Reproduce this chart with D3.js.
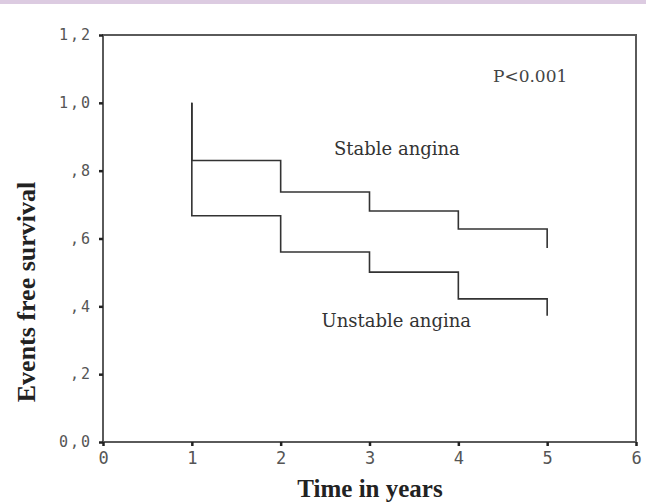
<!DOCTYPE html>
<html>
<head>
<meta charset="utf-8">
<script src="https://cdn.jsdelivr.net/npm/d3@7"></script>
<style>
  body { margin: 0; background: #fff; }
</style>
</head>
<body>
<div id="chart"></div>
<script>
// survival steps (time in years, events free survival)
var times = [1, 2, 3, 4, 5];
var stable = [0.830, 0.737, 0.681, 0.628, 0.572];
var unstable = [0.667, 0.560, 0.501, 0.422, 0.372];
var startValue = 1.0;
var xTicks = [0, 1, 2, 3, 4, 5, 6];
var yTicks = [0, 0.2, 0.4, 0.6, 0.8, 1.0, 1.2];
var yTickLabels = ["0,0", ",2", ",4", ",6", ",8", "1,0", "1,2"];

var W = 646, H = 503;
var margin = {top: 35, right: 10, bottom: 61, left: 103};
var width = 636 - margin.left,
    height = 442 - margin.top;

var svg = d3.select("#chart")
  .append("svg")
    .attr("width", W)
    .attr("height", H);

// lavender strip along the top
svg.append("rect")
  .attr("x", 0).attr("y", 0)
  .attr("width", W).attr("height", 4)
  .style("fill", "#dccbe1");

var g = svg.append("g")
  .attr("transform", "translate(" + margin.left + "," + margin.top + ")");

var x = d3.scaleLinear().domain([0, 6]).range([0, width]);
var y = d3.scaleLinear().domain([0, 1.2]).range([height, 0]);

// frame
g.append("rect")
  .attr("x", 0).attr("y", 0)
  .attr("width", width).attr("height", height)
  .style("fill", "none")
  .style("stroke", "#5a5a5a")
  .style("stroke-width", 2);

// axes
var xAxis = g.append("g")
  .attr("transform", "translate(0," + height + ")")
  .call(d3.axisBottom(x).tickValues(xTicks).tickSize(4).tickPadding(6).tickFormat(d3.format("d")));

var yAxis = g.append("g")
  .call(d3.axisLeft(y).tickValues(yTicks).tickSize(4).tickPadding(7)
    .tickFormat(function (d, i) { return yTickLabels[i]; }));

[xAxis, yAxis].forEach(function (a) {
  a.select(".domain").remove();
  a.selectAll(".tick line").style("stroke", "#222").style("stroke-width", 2.5);
  a.selectAll(".tick text")
    .style("font-family", "DejaVu Sans Mono")
    .style("font-size", "15px")
    .style("fill", "#555");
});
xAxis.selectAll(".tick text").style("font-size", "17px");
yAxis.selectAll(".tick text").style("letter-spacing", "2px");

// step line: start at 1.0 at t=1, then step down at each time
function stepPoints(vals) {
  var pts = [[times[0], startValue]];
  vals.forEach(function (v, i) {
    pts.push([times[i], v]);
    if (i + 1 < vals.length) pts.push([times[i + 1], v]);
  });
  return pts;
}

var line = d3.line()
  .x(function (d) { return x(d[0]); })
  .y(function (d) { return y(d[1]); });

[stable, unstable].forEach(function (vals) {
  g.append("path")
    .datum(stepPoints(vals))
    .attr("d", line)
    .style("fill", "none")
    .style("stroke", "#333")
    .style("stroke-width", 1.6);
});

// annotations
g.append("text")
  .attr("x", x(4.39)).attr("y", y(1.06))
  .style("font-family", "DejaVu Serif")
  .style("font-size", "17px")
  .style("fill", "#444")
  .text("P<0.001");

g.append("text")
  .attr("x", x(2.6)).attr("y", y(0.847))
  .style("font-family", "DejaVu Serif")
  .style("font-size", "18px")
  .style("fill", "#333")
  .text("Stable angina");

g.append("text")
  .attr("x", x(2.46)).attr("y", y(0.34))
  .style("font-family", "DejaVu Serif")
  .style("font-size", "18px")
  .style("fill", "#333")
  .text("Unstable angina");

// axis titles
svg.append("text")
  .attr("x", 370).attr("y", 497)
  .attr("text-anchor", "middle")
  .style("font-family", "Liberation Serif")
  .style("font-weight", "bold")
  .style("font-size", "25px")
  .style("fill", "#222")
  .text("Time in years");

svg.append("text")
  .attr("transform", "translate(35,292) rotate(-90)")
  .attr("text-anchor", "middle")
  .style("font-family", "Liberation Serif")
  .style("font-weight", "bold")
  .style("font-size", "26px")
  .style("fill", "#222")
  .text("Events free survival");
</script>
</body>
</html>
